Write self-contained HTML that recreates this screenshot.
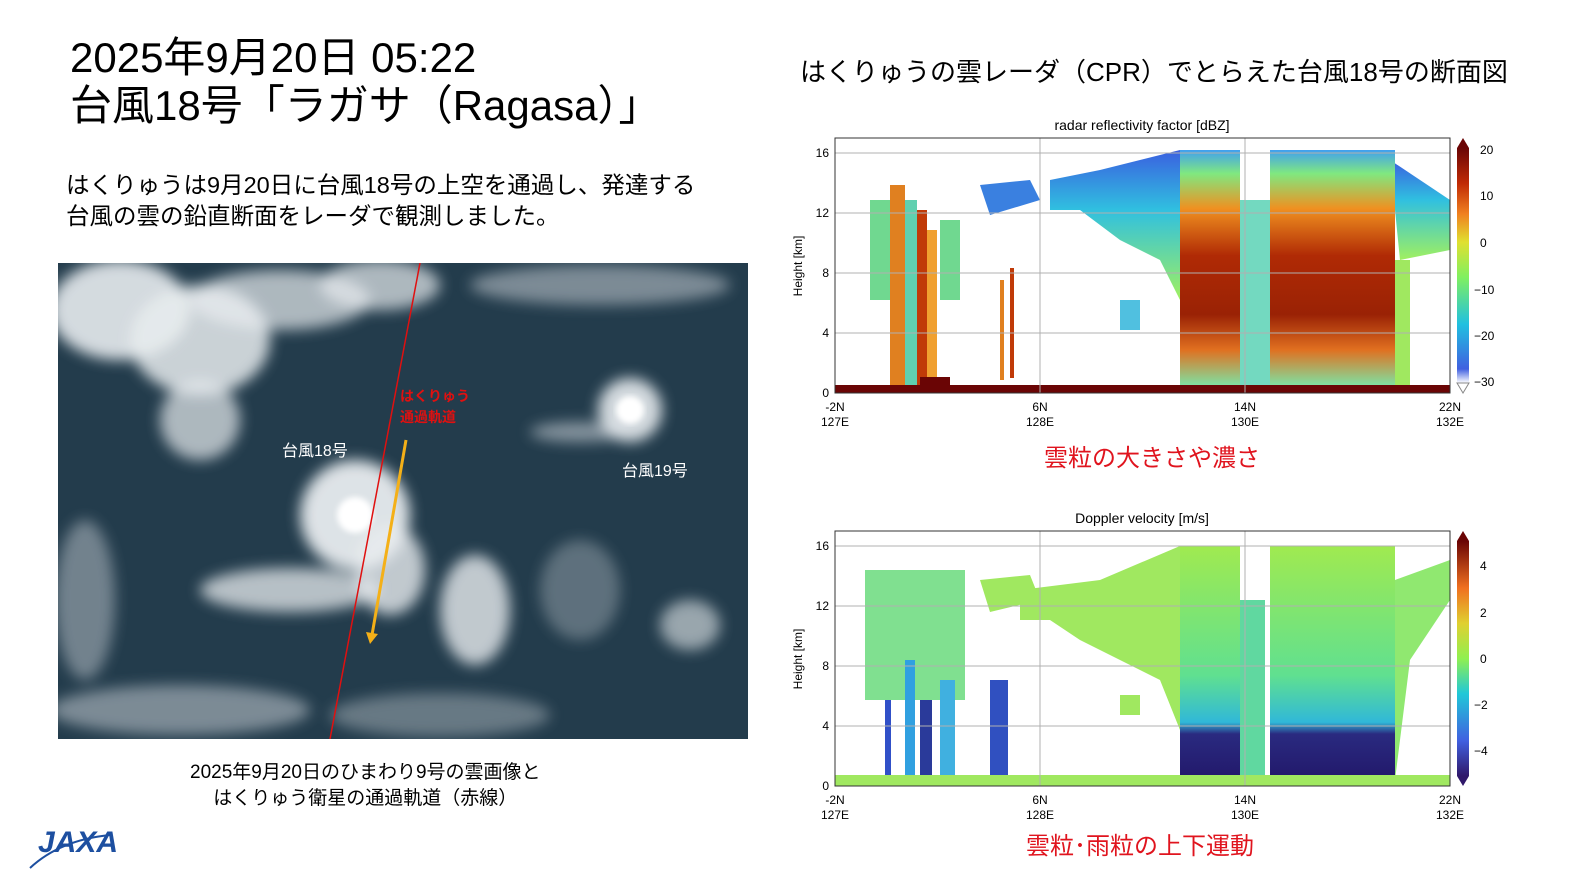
<!DOCTYPE html>
<html><head><meta charset="utf-8"><style>
body{margin:0;width:1580px;height:888px;background:#fff;overflow:hidden;font-family:"Liberation Sans","Noto Sans CJK JP",sans-serif;}
.t{position:absolute;white-space:nowrap;color:#000;}
</style></head><body>
<div class="t" style="left:70px;top:34px;font-size:42px;line-height:48px;">2025年9月20日 05:22<br>台風18号「ラガサ（Ragasa）」</div>
<div class="t" style="left:66px;top:170px;font-size:23.5px;line-height:31px;">はくりゅうは9月20日に台風18号の上空を通過し、発達する<br>台風の雲の鉛直断面をレーダで観測しました。</div>
<div class="t" style="left:800px;top:52px;font-size:26px;">はくりゅうの雲レーダ（CPR）でとらえた台風18号の断面図</div>
<div class="t" style="left:190px;top:760px;font-size:19px;line-height:26px;text-align:center;">2025年9月20日のひまわり9号の雲画像と<br>はくりゅう衛星の通過軌道（赤線）</div>
<div class="t" style="left:1044px;top:438px;font-size:24px;color:#e0141e;">雲粒の大きさや濃さ</div>
<div class="t" style="left:1026px;top:826px;font-size:24px;color:#e0141e;">雲粒･雨粒の上下運動</div>
<div class="t" style="left:38px;top:826px;font-size:30px;font-weight:bold;font-style:italic;color:#1d4fa0;">JAXA</div>

<svg width="1580" height="888" style="position:absolute;left:0;top:0" xmlns="http://www.w3.org/2000/svg">
<defs>
<filter id="b6"><feGaussianBlur stdDeviation="7"/></filter>
<filter id="b3"><feGaussianBlur stdDeviation="3"/></filter>
<clipPath id="mc"><rect x="58" y="263" width="690" height="476"/></clipPath>
<linearGradient id="turbo" x1="0" y1="1" x2="0" y2="0">
<stop offset="0" stop-color="#ffffff"/><stop offset="0.06" stop-color="#4060e0"/><stop offset="0.25" stop-color="#20c0e0"/>
<stop offset="0.45" stop-color="#80f060"/><stop offset="0.6" stop-color="#e0e030"/><stop offset="0.72" stop-color="#f08020"/>
<stop offset="0.85" stop-color="#c02a05"/><stop offset="1" stop-color="#6a0505"/></linearGradient>
<linearGradient id="turbo2" x1="0" y1="1" x2="0" y2="0">
<stop offset="0" stop-color="#30186a"/><stop offset="0.15" stop-color="#4060e0"/><stop offset="0.35" stop-color="#20c8d8"/>
<stop offset="0.5" stop-color="#90f050"/><stop offset="0.65" stop-color="#e0d030"/><stop offset="0.8" stop-color="#f07020"/>
<stop offset="1" stop-color="#6a0505"/></linearGradient>
<linearGradient id="cell" x1="0" y1="0" x2="0" y2="1">
<stop offset="0" stop-color="#40a0f0"/><stop offset="0.1" stop-color="#80e880"/><stop offset="0.25" stop-color="#f09020"/>
<stop offset="0.45" stop-color="#b02a05"/><stop offset="0.7" stop-color="#9a2205"/><stop offset="0.85" stop-color="#e07020"/><stop offset="1" stop-color="#80e0a0"/></linearGradient>
<linearGradient id="anvil" x1="0" y1="0" x2="0" y2="1">
<stop offset="0" stop-color="#3a60e0"/><stop offset="0.4" stop-color="#30c0e0"/><stop offset="1" stop-color="#a0f060"/></linearGradient>
<linearGradient id="dv" x1="0" y1="0" x2="0" y2="1">
<stop offset="0" stop-color="#a0ea50"/><stop offset="0.55" stop-color="#60e090"/><stop offset="0.75" stop-color="#30b8d8"/><stop offset="0.8" stop-color="#2a2a80"/><stop offset="1" stop-color="#22186a"/></linearGradient>
</defs>

<g clip-path="url(#mc)">
<rect x="58" y="263" width="690" height="476" fill="#233c4c"/>
<g filter="url(#b6)" fill="#e8ecef">
<ellipse cx="120" cy="310" rx="70" ry="50" opacity="0.9"/>
<ellipse cx="200" cy="340" rx="70" ry="55" opacity="0.85"/>
<ellipse cx="280" cy="300" rx="90" ry="30" opacity="0.7"/>
<ellipse cx="200" cy="420" rx="40" ry="40" opacity="0.7"/>
<ellipse cx="380" cy="285" rx="60" ry="25" opacity="0.7"/>
<ellipse cx="600" cy="285" rx="130" ry="20" opacity="0.45"/>
<ellipse cx="355" cy="515" rx="55" ry="55" opacity="0.95"/>
<ellipse cx="290" cy="590" rx="90" ry="22" opacity="0.75"/>
<ellipse cx="390" cy="570" rx="35" ry="45" opacity="0.8"/>
<ellipse cx="630" cy="410" rx="32" ry="32" opacity="0.9"/>
<ellipse cx="580" cy="432" rx="50" ry="10" opacity="0.5"/>
<ellipse cx="475" cy="610" rx="35" ry="55" opacity="0.8"/>
<ellipse cx="580" cy="590" rx="40" ry="50" opacity="0.3"/>
<ellipse cx="690" cy="625" rx="30" ry="25" opacity="0.6"/>
<ellipse cx="85" cy="600" rx="30" ry="80" opacity="0.4"/>
<ellipse cx="180" cy="710" rx="130" ry="25" opacity="0.45"/>
<ellipse cx="440" cy="715" rx="110" ry="22" opacity="0.35"/>
</g>
<circle cx="355" cy="515" r="18" fill="#fff" filter="url(#b3)"/>
<circle cx="630" cy="410" r="14" fill="#fff" filter="url(#b3)"/>
<line x1="420" y1="263" x2="330" y2="739" stroke="#e01010" stroke-width="1.5"/>
<line x1="406" y1="440" x2="372" y2="635" stroke="#f4b018" stroke-width="3"/>
<polygon points="366,632 378,634 370,644" fill="#f4b018"/>
<text x="282" y="456" fill="#fff" font-size="16">台風18号</text>
<text x="622" y="476" fill="#fff" font-size="16">台風19号</text>
<text x="400" y="401" fill="#e01010" font-size="14" font-weight="bold">はくりゅう</text>
<text x="400" y="422" fill="#e01010" font-size="14" font-weight="bold">通過軌道</text>
</g>

<g font-size="12" fill="#000">
<text x="1142" y="130" text-anchor="middle" font-size="14">radar reflectivity factor [dBZ]</text>
<g>
<polygon points="1050,180 1100,170 1180,150 1195,200 1180,300 1160,260 1120,240 1080,210 1050,210" fill="url(#anvil)"/>
<polygon points="980,185 1030,180 1040,200 990,215" fill="#3a80e0"/>
<polygon points="1390,160 1450,200 1450,250 1400,260" fill="url(#anvil)"/>
<rect x="1180" y="150" width="60" height="235" fill="url(#cell)"/>
<rect x="1270" y="150" width="125" height="235" fill="url(#cell)"/>
<rect x="1240" y="200" width="30" height="185" fill="#50d0b0" opacity="0.8"/>
<rect x="1395" y="260" width="15" height="125" fill="#a0e860"/>
<rect x="870" y="200" width="20" height="100" fill="#70d890"/>
<rect x="890" y="185" width="15" height="200" fill="#e08020"/>
<rect x="905" y="200" width="12" height="185" fill="#60d0b0"/>
<rect x="917" y="210" width="10" height="175" fill="#c03a08"/>
<rect x="927" y="230" width="10" height="155" fill="#f0a030"/>
<rect x="940" y="220" width="20" height="80" fill="#70d890"/>
<rect x="1000" y="280" width="4" height="100" fill="#e08020"/>
<rect x="1010" y="268" width="4" height="110" fill="#c03a08"/>
<rect x="1120" y="300" width="20" height="30" fill="#50c0e0"/>
<rect x="835" y="385" width="615" height="8" fill="#6a0505"/>
<rect x="920" y="377" width="30" height="10" fill="#6a0505"/>
</g>
<g stroke="#b0b0b0" stroke-width="1">
<line x1="835" y1="153" x2="1450" y2="153"/><line x1="835" y1="213" x2="1450" y2="213"/><line x1="835" y1="273" x2="1450" y2="273"/><line x1="835" y1="333" x2="1450" y2="333"/>
<line x1="1040" y1="138" x2="1040" y2="393"/><line x1="1245" y1="138" x2="1245" y2="393"/>
</g>
<rect x="835" y="138" width="615" height="255" fill="none" stroke="#333"/>
<g text-anchor="end"><text x="829" y="157">16</text><text x="829" y="217">12</text><text x="829" y="277">8</text><text x="829" y="337">4</text><text x="829" y="397">0</text></g>
<text x="802" y="266" transform="rotate(-90 802 266)" text-anchor="middle">Height [km]</text>
<g text-anchor="middle"><text x="835" y="411">-2N</text><text x="835" y="426">127E</text><text x="1040" y="411">6N</text><text x="1040" y="426">128E</text><text x="1245" y="411">14N</text><text x="1245" y="426">130E</text><text x="1450" y="411">22N</text><text x="1450" y="426">132E</text></g>
<rect x="1457" y="148" width="12" height="235" fill="url(#turbo)"/>
<polygon points="1457,148 1469,148 1463,138" fill="#6a0505"/>
<polygon points="1457,383 1469,383 1463,393" fill="#fff" stroke="#888"/>
<g><text x="1480" y="154">20</text><text x="1480" y="200">10</text><text x="1480" y="247">0</text><text x="1474" y="294">−10</text><text x="1474" y="340">−20</text><text x="1474" y="386">−30</text></g>

<text x="1142" y="523" text-anchor="middle" font-size="14">Doppler velocity [m/s]</text>
<g>
<polygon points="1020,590 1100,580 1180,546 1195,600 1180,730 1160,680 1120,660 1080,640 1050,620 1020,620" fill="#a0e860"/>
<polygon points="980,580 1030,575 1040,600 990,612" fill="#a0e860"/>
<rect x="1180" y="546" width="60" height="235" fill="url(#dv)"/>
<rect x="1270" y="546" width="125" height="235" fill="url(#dv)"/>
<rect x="1240" y="600" width="25" height="180" fill="#60d8a0"/>
<polygon points="1395,580 1450,560 1450,600 1410,660 1395,780" fill="#90e870"/>
<rect x="865" y="570" width="100" height="130" fill="#80e090"/>
<rect x="885" y="700" width="6" height="78" fill="#3050c8"/>
<rect x="905" y="660" width="10" height="118" fill="#30a0e0"/>
<rect x="920" y="700" width="12" height="78" fill="#2a3a9a"/>
<rect x="940" y="680" width="15" height="98" fill="#40b0e0"/>
<rect x="990" y="680" width="18" height="98" fill="#3050c0"/>
<rect x="1120" y="695" width="20" height="20" fill="#a0e860"/>
<rect x="835" y="775" width="615" height="11" fill="#a0e860"/>
</g>
<g stroke="#b0b0b0" stroke-width="1">
<line x1="835" y1="546" x2="1450" y2="546"/><line x1="835" y1="606" x2="1450" y2="606"/><line x1="835" y1="666" x2="1450" y2="666"/><line x1="835" y1="726" x2="1450" y2="726"/>
<line x1="1040" y1="531" x2="1040" y2="786"/><line x1="1245" y1="531" x2="1245" y2="786"/>
</g>
<rect x="835" y="531" width="615" height="255" fill="none" stroke="#333"/>
<g text-anchor="end"><text x="829" y="550">16</text><text x="829" y="610">12</text><text x="829" y="670">8</text><text x="829" y="730">4</text><text x="829" y="790">0</text></g>
<text x="802" y="659" transform="rotate(-90 802 659)" text-anchor="middle">Height [km]</text>
<g text-anchor="middle"><text x="835" y="804">-2N</text><text x="835" y="819">127E</text><text x="1040" y="804">6N</text><text x="1040" y="819">128E</text><text x="1245" y="804">14N</text><text x="1245" y="819">130E</text><text x="1450" y="804">22N</text><text x="1450" y="819">132E</text></g>
<rect x="1457" y="541" width="12" height="235" fill="url(#turbo2)"/>
<polygon points="1457,541 1469,541 1463,531" fill="#6a0505"/>
<polygon points="1457,776 1469,776 1463,786" fill="#30186a"/>
<g><text x="1480" y="570">4</text><text x="1480" y="617">2</text><text x="1480" y="663">0</text><text x="1474" y="709">−2</text><text x="1474" y="755">−4</text></g>
</g>
<path d="M30,868 Q60,840 110,835" stroke="#1d4fa0" stroke-width="2" fill="none"/>
</svg>
</body></html>
